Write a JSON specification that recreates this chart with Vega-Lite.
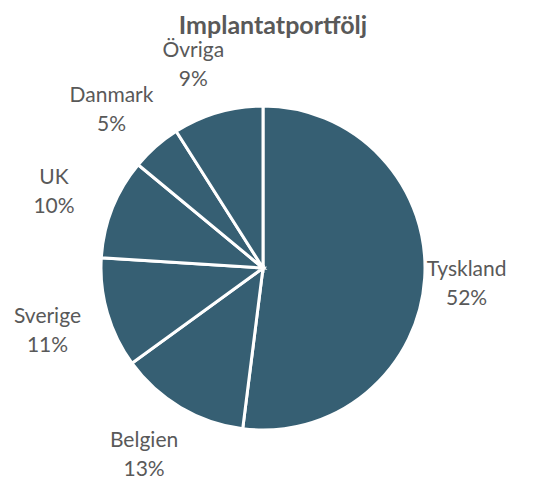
{
  "$schema": "https://vega.github.io/schema/vega-lite/v6.json",
  "width": 526,
  "height": 426,
  "autosize": {"type": "none"},
  "padding": {"left": 0, "top": 55, "right": 13, "bottom": 0},
  "background": "white",
  "title": {
    "text": "Implantatportfölj",
    "font": "Lato",
    "fontSize": 25,
    "fontWeight": "bold",
    "color": "#595959",
    "anchor": "middle",
    "dx": 10,
    "offset": 1
  },
  "data": {
    "values": [
      {"land": "Tyskland", "andel": 52, "ordning": 1},
      {"land": "Belgien", "andel": 13, "ordning": 2},
      {"land": "Sverige", "andel": 11, "ordning": 3},
      {"land": "UK", "andel": 10, "ordning": 4},
      {"land": "Danmark", "andel": 5, "ordning": 5},
      {"land": "Övriga", "andel": 9, "ordning": 6}
    ]
  },
  "transform": [
    {"calculate": "datum.land + '\\n' + datum.andel + '%'", "as": "etikett"}
  ],
  "encoding": {
    "theta": {"field": "andel", "type": "quantitative", "stack": true},
    "order": {"field": "ordning", "type": "quantitative", "sort": "ascending"}
  },
  "layer": [
    {
      "mark": {"type": "arc", "radius": 162, "fill": "#365F73", "stroke": "white", "strokeWidth": 3, "strokeJoin": "miter"}
    },
    {
      "mark": {"type": "text", "radius": 214, "dx": -10, "dy": -11, "font": "Lato", "fontSize": 21, "color": "#595959", "lineBreak": "\n", "lineHeight": 29, "align": "center", "baseline": "middle"},
      "encoding": {
        "text": {"field": "etikett", "type": "nominal"}
      }
    }
  ],
  "config": {"view": {"stroke": null}}
}
